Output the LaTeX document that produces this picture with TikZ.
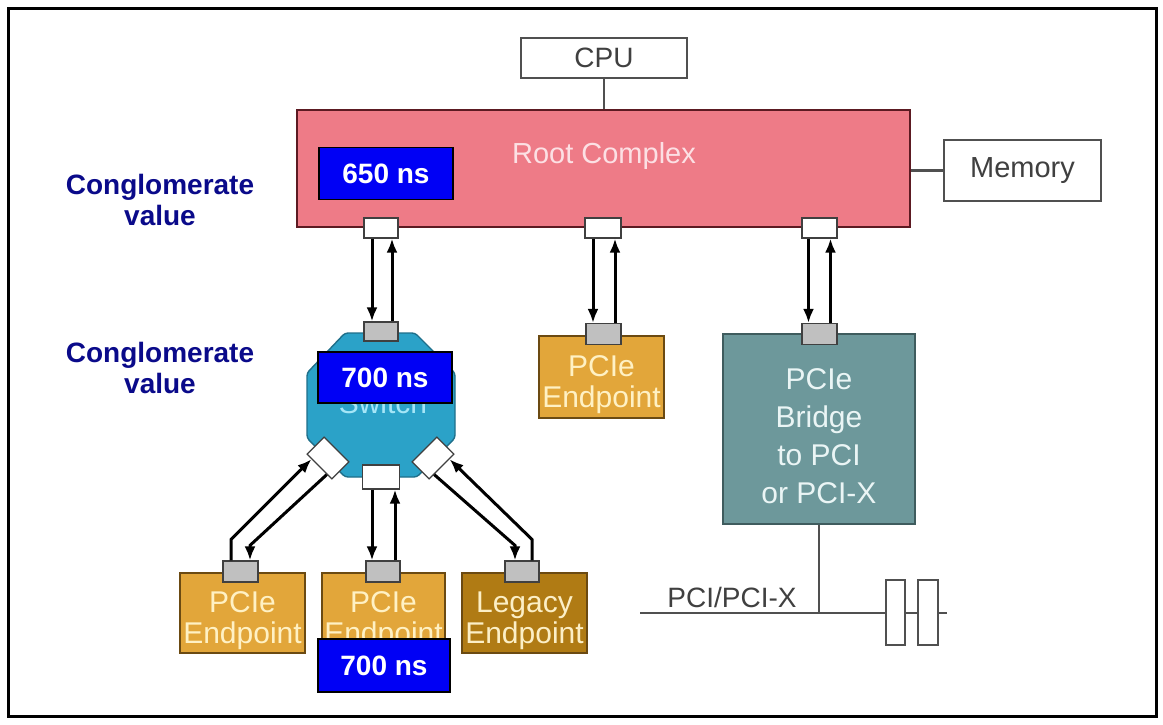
\documentclass[tikz,border=0pt]{standalone}
\usepackage{fontspec}
\setmainfont{Liberation Sans}
\usetikzlibrary{arrows.meta,calc}
\definecolor{rootfill}{HTML}{EE7B87}
\definecolor{rootborder}{HTML}{5C1A22}
\definecolor{roottext}{HTML}{FCE0E4}
\definecolor{swfill}{HTML}{2BA2C8}
\definecolor{swborder}{HTML}{1F6F8A}
\definecolor{swtext}{HTML}{A5E6F7}
\definecolor{epfill}{HTML}{E2A63A}
\definecolor{epborder}{HTML}{6B4A12}
\definecolor{eptext}{HTML}{FFF1C4}
\definecolor{legfill}{HTML}{B07B14}
\definecolor{legtext}{HTML}{FCEFC6}
\definecolor{brfill}{HTML}{6D989B}
\definecolor{brborder}{HTML}{3F5C5E}
\definecolor{brtext}{HTML}{EAF5F5}
\definecolor{portgray}{HTML}{C0C0C0}
\definecolor{portborder}{HTML}{404040}
\definecolor{linegray}{HTML}{505050}
\definecolor{txtgray}{HTML}{404040}
\definecolor{navy}{HTML}{0A0A8A}
\definecolor{nsblue}{HTML}{0000F5}
\begin{document}
\begin{tikzpicture}[x=1pt,y=-1pt,
  lbl/.style={font=\fontsize{28}{31}\selectfont, align=center, inner sep=0pt},
  big/.style={lbl, font=\fontsize{30}{31}\selectfont},
  wbox/.style={lbl, draw=linegray, line width=1.6pt, fill=white, text=txtgray},
  wport/.style={draw=portborder, line width=1.2pt, fill=white, minimum width=34, minimum height=20, inner sep=0pt},
  gport/.style={draw=portborder, line width=1.2pt, fill=portgray, minimum width=35, minimum height=21, inner sep=0pt},
  epbox/.style={draw=epborder, line width=1.4pt, fill=epfill, minimum width=124, minimum height=80, inner sep=0pt},
  eptxt/.style={big, text=eptext},
  nsbox/.style={draw=black, line width=1.8pt, fill=nsblue, text=white, inner sep=0pt,
    font=\fontsize{28}{31}\selectfont\bfseries, minimum width=134, minimum height=52},
  conglo/.style={lbl, text=navy, font=\fontsize{28}{31}\selectfont\bfseries},
  arr/.style={line width=3pt, -{Latex[length=14pt,width=11pt]}},
  wire/.style={draw=linegray, line width=2.2pt}
]
\useasboundingbox (0,0) rectangle (1163,724);
\draw[line width=3pt] (8,8) rectangle (1156,716);

% CPU, root complex, memory
\node[wbox, minimum width=166, minimum height=40] (cpu) at (604,58) {CPU};
\node[draw=rootborder, line width=2pt, fill=rootfill, minimum width=613, minimum height=117, inner sep=0pt] (root) at (603.5,168.5) {};
\node[lbl, font=\fontsize{29}{31}\selectfont, text=roottext] (roottxt) at (604,156) {Root Complex};
\node[wbox, font=\fontsize{29}{31}\selectfont, minimum width=157, minimum height=61] (mem) at (1022.5,170.5) {Memory};
\draw[wire] (cpu.south) -- (cpu.south |- root.north);
\draw[wire] (root.east |- mem.west) -- (mem.west);

% root ports
\node[wport] (rp1) at (381,228) {};
\node[wport, minimum width=36] (rp2) at (603,228) {};
\node[wport, minimum width=35] (rp3) at (819.5,228) {};

% switch
\draw[draw=swborder, line width=1.4pt, fill=swfill, rounded corners=3pt]
  (345,333) -- (415,333) -- (455,373) -- (455,438) -- (417,477) -- (345,477) -- (307,438) -- (307,373) -- cycle;
\node[big, text=swtext] (sw) at (383,403) {Switch};
\node[gport, minimum width=34, minimum height=19] (sp1) at (381,331.5) {};
\node[wport, minimum width=37, minimum height=24] (spb) at (381,477) {};
\node[wport, minimum width=35, minimum height=24, rotate=-45] (dl) at (328,458) {};
\node[wport, minimum width=35, minimum height=24, rotate=45] (dr) at (433,458) {};

% middle endpoint under root
\node[epbox, minimum width=125, minimum height=82] (epm) at (601.5,377) {};
\node[eptxt] (epmt) at ([yshift=-8pt]epm.center) {PCIe\\Endpoint};
\node[gport] (epmp) at (603.5,334) {};

% bridge
\node[draw=brborder, line width=1.4pt, fill=brfill, minimum width=192, minimum height=190, inner sep=0pt] (br) at (819,429) {};
\node[big, text=brtext, font=\fontsize{30}{38}\selectfont] (brt) at ([yshift=-7pt]br.center) {PCIe\\Bridge\\to PCI\\or PCI-X};
\node[gport] (brp) at (819.5,334) {};

% bottom endpoints
\node[epbox, minimum width=125] (ep1) at (242.5,613) {};
\node[epbox, minimum width=123] (ep2) at (383.5,613) {};
\node[epbox, minimum width=125, fill=legfill] (leg) at (524.5,613) {};
\node[eptxt] (ep1t) at ([yshift=-8pt]ep1.center) {PCIe\\Endpoint};
\node[eptxt] (ep2t) at ([yshift=-8pt]ep2.center) {PCIe\\Endpoint};
\node[eptxt, text=legtext] (legt) at ([yshift=-8pt]leg.center) {Legacy\\Endpoint};
\node[gport] (ep1p) at (240.5,571.5) {};
\node[gport, minimum width=34] (ep2p) at (383,571.5) {};
\node[gport, minimum width=34] (legp) at (522,571.5) {};

% PCI bus
\coordinate (busL) at (640,613);
\coordinate (busR) at (947,613);
\draw[wire] (busL) -- (busR);
\draw[wire] (br.south) -- (br.south |- busL);
\node[lbl, text=txtgray, anchor=base] (bustxt) at (732,607) {PCI/PCI-X};
\node[draw=linegray, line width=1.3pt, fill=white, minimum width=19, minimum height=65, inner sep=0pt] (slot1) at (895.5,612.5) {};
\node[draw=linegray, line width=1.3pt, fill=white, minimum width=20, minimum height=65, inner sep=0pt] (slot2) at (928,612.5) {};

% links root -> switch / endpoint / bridge
\draw[arr] ([xshift=-9pt]rp1.south) -- ([xshift=-9pt]rp1.south |- sp1.north);
\draw[arr] ([xshift=11pt]rp1.south |- sp1.north) -- ([xshift=11pt]rp1.south);
\draw[arr] ([xshift=-10pt]rp2.south) -- ([xshift=-10pt]rp2.south |- epmp.north);
\draw[arr] ([xshift=12pt]rp2.south |- epmp.north) -- ([xshift=12pt]rp2.south);
\draw[arr] ([xshift=-11pt]rp3.south) -- ([xshift=-11pt]rp3.south |- brp.north);
\draw[arr] ([xshift=11pt]rp3.south |- brp.north) -- ([xshift=11pt]rp3.south);

% links switch -> bottom endpoints
\draw[arr] ([xshift=-9pt]spb.south) -- ([xshift=-9pt]spb.south |- ep2p.north);
\draw[arr] ([xshift=14pt]spb.south |- ep2p.north) -- ([xshift=14pt]spb.south);

\coordinate (lk1) at ([xshift=-9.5pt,yshift=21pt]ep1p.north);
\coordinate (lk2) at ([xshift=9.5pt,yshift=15pt]ep1p.north);
\draw[arr] ([xshift=-9.5pt]ep1p.north) -- (lk1) -- ($(dl.south west)!0.2!(dl.south east)$);
\draw[arr] ($(dl.south west)!0.8!(dl.south east)$) -- (lk2) -- ([xshift=9.5pt]ep1p.north);

\coordinate (rk1) at ([xshift=10pt,yshift=21pt]legp.north);
\coordinate (rk2) at ([xshift=-7pt,yshift=15pt]legp.north);
\draw[arr] ([xshift=10pt]legp.north) -- (rk1) -- ($(dr.south west)!0.8!(dr.south east)$);
\draw[arr] ($(dr.south west)!0.2!(dr.south east)$) -- (rk2) -- ([xshift=-7pt]legp.north);

% latency boxes
\node[nsbox] (ns1) at (386,173.5) {650 ns};
\node[nsbox, minimum height=51] (ns2) at (385,377.5) {700 ns};
\node[nsbox, minimum width=132, minimum height=53] (ns3) at (384,665.5) {700 ns};

% labels
\node[conglo] (cg1) at (160,200) {Conglomerate\\value};
\node[conglo] (cg2) at (160,368) {Conglomerate\\value};
\end{tikzpicture}
\end{document}
